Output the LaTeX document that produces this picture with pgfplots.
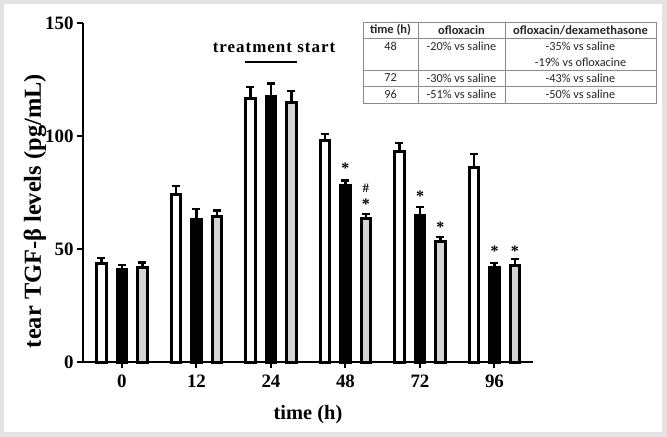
\documentclass[border=0pt]{standalone}
\usepackage{pgfplots}
\usepackage{pgfplotstable}
\pgfplotsset{compat=1.18}
\usepackage{fontspec}
\setmainfont{Liberation Serif}
\newfontfamily\calibri{Carlito}
\definecolor{framegray}{HTML}{E3E3E3}
\definecolor{bargray}{HTML}{D4D4D4}
\definecolor{tabline}{HTML}{8A8A8A}

\pgfplotstableread{
x y e
0 43.4 2.6
1 74.2 3.7
2 116.4 5.3
3 97.8 3.0
4 93.0 4.0
5 86.0 6.0
}\saline
\pgfplotstableread{
x y e
0 41.0 2.0
1 63.1 4.6
2 117.3 6.0
3 78.3 2.0
4 65.0 3.5
5 41.6 2.2
}\oflox
\pgfplotstableread{
x y e
0 41.6 2.5
1 64.3 2.7
2 115.0 5.0
3 63.3 2.2
4 53.5 1.8
5 42.9 2.7
}\ofdex

\begin{document}
\begin{tikzpicture}
\fill[framegray] (0,0) rectangle (667bp,-437bp);
\fill[white] (4bp,-4bp) rectangle (662bp,-432bp);
\begin{axis}[
  at={(83bp,-362bp)}, anchor=south west,
  scale only axis, width=450bp, height=339bp,
  xmin=-0.523, xmax=5.517, ymin=0, ymax=150,
  axis lines=left,
  axis line style={line width=2.5bp, -},
  clip=false,
  xtick={0,1,2,3,4,5},
  xticklabels={0,12,24,48,72,96},
  ytick={0,50,100,150},
  minor tick num=0,
  tick align=outside,
  major tick length=6bp,
  tick style={line width=2bp, black},
  /pgf/number format/assume math mode=true,
  tick label style={font=\bfseries\fontsize{19}{19}\selectfont},
  xticklabel style={yshift=-3.5bp},
  xlabel={time (h)},
  ylabel={tear TGF-β levels (pg/mL)},
  xlabel style={font=\bfseries\fontsize{20.5}{20.5}\selectfont, at={(axis description cs:0.5,0)}, anchor=center, yshift=-53bp},
  ylabel style={font=\bfseries\fontsize{24.5}{24.5}\selectfont, at={(axis description cs:-0.107,0.445)}, anchor=center},
  every axis plot/.append style={ybar, bar width=9.5bp, bar shift=0bp, draw=black, line width=3bp},
  myerr/.style={error bars/.cd, y dir=plus, y explicit,
    error bar style={line width=2.5bp, black},
    error mark options={rotate=90, mark size=4bp, line width=2.5bp, black}},
]
\addplot[fill=white, myerr] table[x expr=\thisrow{x}-0.2752, y=y, y error=e] {\saline};
\addplot[fill=black, myerr] table[x=x, y=y, y error=e] {\oflox};
\addplot[fill=bargray, myerr] table[x expr=\thisrow{x}+0.2752, y=y, y error=e] {\ofdex};

% significance marks
\tikzset{sig/.style={font=\bfseries\fontsize{16}{16}\selectfont, inner sep=0pt}}
\node[sig, anchor=north] at (axis cs:3,88.2) {*};
\node[sig] at (axis cs:3.275,77) {\fontsize{13}{13}\selectfont\#};
\node[sig, anchor=north] at (axis cs:3.275,72) {*};
\node[sig, anchor=north] at (axis cs:4,75.8) {*};
\node[sig, anchor=north] at (axis cs:4.275,62.1) {*};
\node[sig, anchor=north] at (axis cs:5,51.5) {*};
\node[sig, anchor=north] at (axis cs:5.275,51.5) {*};
\end{axis}

% treatment start
\node[font=\bfseries\fontsize{17}{17}\selectfont\addfontfeature{LetterSpace=6}] at (274bp,-48bp) {treatment start};
\draw[line width=2.5bp] (245bp,-62bp) -- (297bp,-62bp);

% table
\begin{scope}[tabline, line width=0.9bp]
\draw (363bp,-22bp) rectangle (656bp,-103bp);
\draw (418bp,-22bp) -- (418bp,-103bp);
\draw (505bp,-22bp) -- (505bp,-103bp);
\draw (363bp,-38bp) -- (656bp,-38bp);
\draw (363bp,-70bp) -- (656bp,-70bp);
\draw (363bp,-86bp) -- (656bp,-86bp);
\end{scope}
\begin{scope}[every node/.style={font=\calibri\fontsize{12.3}{12.3}\selectfont, inner sep=0pt, text=black!85}]
\node[font=\calibri\bfseries\fontsize{12.5}{12.5}\selectfont] at (390.5bp,-30bp) {time (h)};
\node[font=\calibri\bfseries\fontsize{12.5}{12.5}\selectfont] at (461.5bp,-30bp) {ofloxacin};
\node[font=\calibri\bfseries\fontsize{12.5}{12.5}\selectfont] at (580.5bp,-30bp) {ofloxacin/dexamethasone};
\node at (390.5bp,-46bp) {48};
\node at (461.5bp,-46bp) {-20\% vs saline};
\node at (580.5bp,-46bp) {-35\% vs saline};
\node at (580.5bp,-62bp) {-19\% vs ofloxacine};
\node at (390.5bp,-78bp) {72};
\node at (461.5bp,-78bp) {-30\% vs saline};
\node at (580.5bp,-78bp) {-43\% vs saline};
\node at (390.5bp,-94.5bp) {96};
\node at (461.5bp,-94.5bp) {-51\% vs saline};
\node at (580.5bp,-94.5bp) {-50\% vs saline};
\end{scope}
\end{tikzpicture}
\end{document}
